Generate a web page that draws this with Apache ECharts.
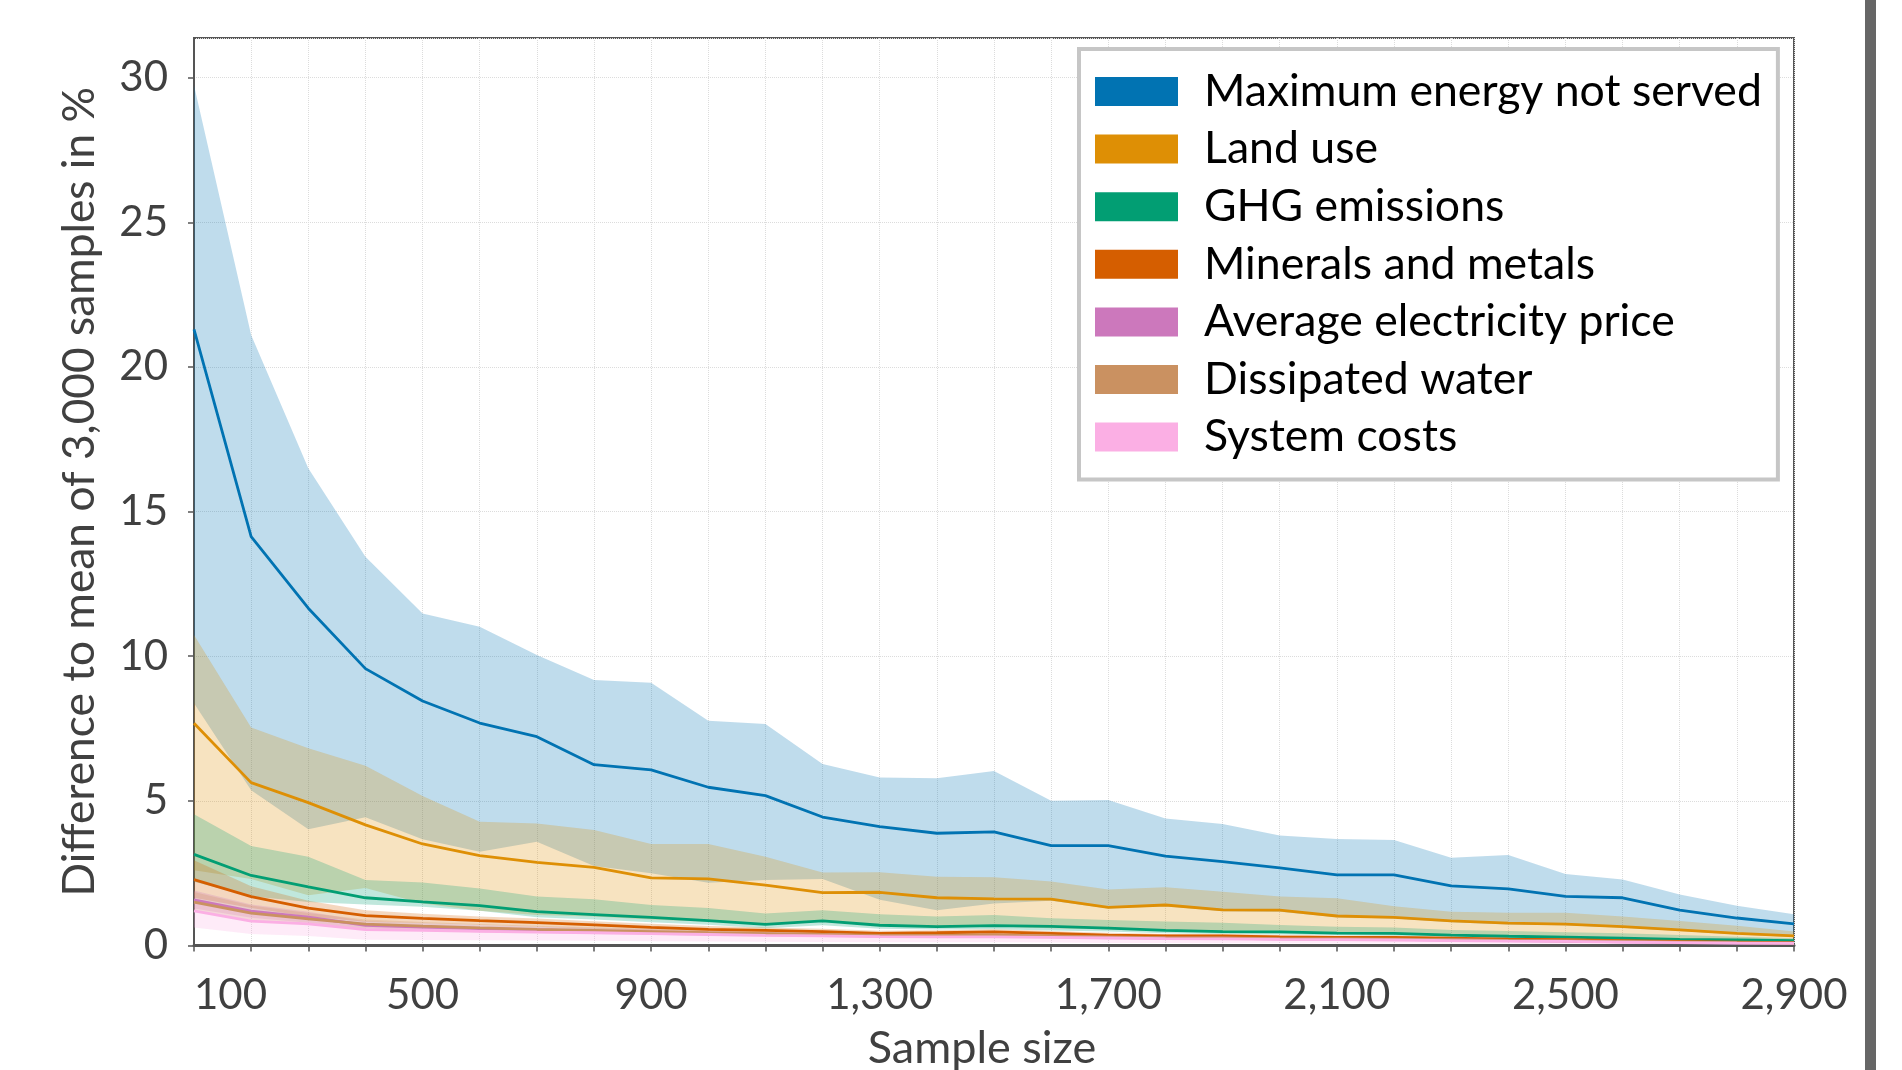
<!DOCTYPE html>
<html>
<head>
<meta charset="utf-8">
<script src="https://cdn.jsdelivr.net/npm/echarts@6/dist/echarts.min.js"></script>
<style>
html,body{margin:0;padding:0;background:#fff;}
#c{width:1902px;height:1070px;}
</style>
</head>
<body>
<div id="c"></div>
<script>
// ---- data ----
const sampleSizes = [100,200,300,400,500,600,700,800,900,1000,1100,1200,1300,1400,1500,1600,1700,1800,1900,2000,2100,2200,2300,2400,2500,2600,2700,2800,2900];
const seriesNames = ['Maximum energy not served','Land use','GHG emissions','Minerals and metals','Average electricity price','Dissipated water','System costs'];

const mensMean  = [21.3,14.13,11.66,9.57,8.45,7.69,7.22,6.25,6.07,5.47,5.18,4.44,4.11,3.88,3.93,3.45,3.45,3.09,2.90,2.68,2.44,2.44,2.06,1.96,1.70,1.65,1.22,0.95,0.75];
const mensUpper = [29.74,21.1,16.5,13.44,11.48,11.02,10.04,9.18,9.08,7.77,7.66,6.27,5.81,5.78,6.03,5.00,5.03,4.39,4.20,3.80,3.68,3.65,3.03,3.13,2.47,2.28,1.76,1.37,1.08];
const mensLower = [8.37,5.37,4.02,4.43,3.67,3.24,3.59,2.75,2.50,2.17,2.26,2.30,1.58,1.22,1.45,1.55,1.28,1.36,1.18,1.17,0.98,0.93,0.80,0.73,0.70,0.61,0.50,0.38,0.29];

const landMean  = [7.68,5.63,4.94,4.17,3.51,3.11,2.87,2.70,2.34,2.30,2.09,1.83,1.84,1.65,1.61,1.60,1.32,1.40,1.23,1.22,1.02,0.97,0.85,0.77,0.74,0.65,0.54,0.42,0.33];
const landUpper = [10.73,7.54,6.82,6.21,5.17,4.28,4.22,3.99,3.51,3.51,3.07,2.52,2.53,2.38,2.36,2.21,1.94,2.01,1.86,1.69,1.63,1.36,1.17,1.13,1.13,1.00,0.85,0.68,0.48];
const landLower = [2.6,2.3,1.74,1.99,1.45,1.2,1.05,1.0,0.9,0.82,0.75,0.88,0.72,0.62,0.66,0.6,0.55,0.5,0.46,0.44,0.4,0.38,0.32,0.3,0.27,0.24,0.2,0.16,0.12];

const ghgMean  = [3.15,2.42,2.03,1.65,1.51,1.38,1.17,1.07,0.97,0.86,0.73,0.85,0.70,0.65,0.69,0.66,0.60,0.52,0.48,0.47,0.43,0.42,0.36,0.32,0.29,0.25,0.21,0.19,0.17];
const ghgUpper = [4.54,3.44,3.07,2.26,2.18,1.97,1.69,1.60,1.40,1.30,1.11,1.22,1.08,1.00,1.05,0.94,0.88,0.83,0.79,0.71,0.65,0.62,0.54,0.50,0.46,0.42,0.36,0.30,0.25];
const ghgLower = [2.2,1.7,1.5,1.42,1.34,1.2,0.98,0.9,0.8,0.72,0.6,0.7,0.58,0.55,0.56,0.52,0.48,0.42,0.4,0.38,0.35,0.34,0.3,0.25,0.22,0.2,0.16,0.14,0.12];

const minMean  = [2.28,1.69,1.29,1.03,0.94,0.86,0.79,0.71,0.63,0.56,0.52,0.48,0.42,0.44,0.47,0.42,0.36,0.33,0.33,0.30,0.28,0.28,0.25,0.22,0.20,0.17,0.14,0.12,0.10];
const minUpper = [2.95,2.05,1.55,1.22,1.1,1.0,0.93,0.84,0.75,0.67,0.62,0.58,0.51,0.53,0.56,0.5,0.44,0.4,0.4,0.36,0.34,0.34,0.3,0.27,0.25,0.21,0.18,0.15,0.13];
const minLower = [1.65,1.3,1.0,0.82,0.77,0.71,0.65,0.58,0.51,0.45,0.42,0.38,0.33,0.35,0.38,0.34,0.28,0.26,0.26,0.24,0.22,0.22,0.2,0.17,0.15,0.13,0.1,0.09,0.07];

const priceMean  = [1.58,1.19,0.98,0.70,0.64,0.58,0.54,0.50,0.46,0.42,0.39,0.36,0.33,0.33,0.34,0.31,0.28,0.26,0.25,0.23,0.22,0.21,0.19,0.17,0.15,0.13,0.11,0.09,0.08];
const priceUpper = [1.9,1.42,1.17,0.84,0.77,0.7,0.65,0.6,0.55,0.5,0.47,0.43,0.4,0.4,0.41,0.37,0.34,0.31,0.3,0.28,0.26,0.25,0.23,0.2,0.18,0.16,0.13,0.11,0.1];
const priceLower = [1.28,0.96,0.79,0.56,0.51,0.46,0.43,0.4,0.37,0.34,0.31,0.29,0.26,0.26,0.27,0.25,0.22,0.21,0.2,0.18,0.18,0.17,0.15,0.14,0.12,0.1,0.09,0.07,0.06];

const waterMean  = [1.50,1.12,0.92,0.74,0.67,0.61,0.56,0.52,0.48,0.44,0.41,0.38,0.35,0.35,0.36,0.33,0.30,0.27,0.26,0.24,0.23,0.22,0.20,0.18,0.16,0.14,0.12,0.10,0.08];
const waterUpper = [1.85,1.38,1.12,0.9,0.81,0.74,0.68,0.63,0.58,0.53,0.5,0.46,0.42,0.42,0.43,0.4,0.36,0.33,0.31,0.29,0.28,0.26,0.24,0.22,0.19,0.17,0.14,0.12,0.1];
const waterLower = [1.18,0.88,0.73,0.59,0.54,0.49,0.45,0.42,0.39,0.36,0.33,0.31,0.28,0.28,0.29,0.27,0.24,0.22,0.21,0.19,0.18,0.18,0.16,0.15,0.13,0.11,0.1,0.08,0.07];

const costMean  = [1.2,0.84,0.75,0.55,0.52,0.49,0.46,0.44,0.41,0.38,0.35,0.33,0.31,0.30,0.30,0.28,0.26,0.24,0.23,0.21,0.20,0.19,0.17,0.15,0.14,0.12,0.10,0.08,0.07];
const costUpper = [1.55,1.1,0.98,0.72,0.68,0.64,0.6,0.57,0.53,0.49,0.46,0.43,0.4,0.39,0.39,0.36,0.34,0.31,0.3,0.27,0.26,0.25,0.22,0.2,0.18,0.16,0.13,0.11,0.09];
const costLower = [0.62,0.4,0.33,0.2,0.19,0.18,0.17,0.16,0.15,0.14,0.13,0.12,0.11,0.11,0.11,0.1,0.09,0.09,0.08,0.08,0.07,0.07,0.06,0.06,0.05,0.05,0.04,0.03,0.03];

const yTicks = [0,5,10,15,20,25,30];
const xLabelTicks = [100,500,900,1300,1700,2100,2500,2900];

// ---- build ----
const colors = ['#0173B2','#DE8F05','#029E73','#D55E00','#CC78BC','#CA9161','#FBAFE4'];
const means  = [mensMean, landMean, ghgMean, minMean, priceMean, waterMean, costMean];
const uppers = [mensUpper, landUpper, ghgUpper, minUpper, priceUpper, waterUpper, costUpper];
const lowers = [mensLower, landLower, ghgLower, minLower, priceLower, waterLower, costLower];

function hexA(hex, a){
  const r=parseInt(hex.slice(1,3),16),g=parseInt(hex.slice(3,5),16),b=parseInt(hex.slice(5,7),16);
  return `rgba(${r},${g},${b},${a})`;
}

const series = [];
seriesNames.forEach((name, i) => {
  const bandData = sampleSizes.map((x, k) => [x, lowers[i][k], uppers[i][k]]);
  series.push({
    name: 'band_' + i, type: 'custom', silent: true,
    data: bandData,
    encode: {x: 0, y: [1, 2]},
    clip: true,
    z: 2,
    renderItem: (params, api) => {
      if (params.dataIndex !== 0) return null;
      const top = bandData.map(d => api.coord([d[0], d[2]]));
      const bot = bandData.map(d => api.coord([d[0], d[1]])).reverse();
      return {
        type: 'polygon',
        shape: {points: top.concat(bot)},
        style: {fill: hexA(colors[i], 0.25), stroke: null}
      };
    }
  });
  series.push({
    name: name, type: 'line',
    data: sampleSizes.map((x, k) => [x, means[i][k]]),
    symbol: 'none', showSymbol: false, color: colors[i],
    lineStyle: {color: colors[i], width: 2.8}, z: 3
  });
});

const font = 'Lato';
const chart = echarts.init(document.getElementById('c'), null, {renderer: 'canvas'});
chart.setOption({
  animation: false,
  backgroundColor: '#ffffff',
  grid: {left: 194, right: 108, top: 38, bottom: 124.5, containLabel: false, outerBoundsMode: 'none',
         show: true, borderColor: '#555', borderWidth: 2, backgroundColor: 'transparent'},
  xAxis: {
    type: 'value', min: 100, max: 2900, interval: 100,
    name: 'Sample size', nameLocation: 'middle', nameGap: 80,
    nameTextStyle: {fontFamily: font, fontSize: 45, color: '#404040', padding: [0, 24, 0, 0]},
    axisLine: {show: true, lineStyle: {color: '#555', width: 3}},
    axisTick: {show: true, length: 6, lineStyle: {color: '#555', width: 1.5}},
    axisLabel: {
      fontFamily: font, fontSize: 42, color: '#404040', margin: 29,
      alignMinLabel: 'left',
      formatter: v => xLabelTicks.includes(v) ? v.toLocaleString('en-US') : ''
    },
    splitLine: {show: true, lineStyle: {color: '#dcdcdc', type: 'dotted', width: 1}}
  },
  yAxis: {
    type: 'value', min: 0, max: 31.37, interval: 5,
    name: 'Difference to mean of 3,000 samples in %', nameLocation: 'middle', nameGap: 92,
    nameTextStyle: {fontFamily: font, fontSize: 44.3, color: '#404040'},
    axisLine: {show: true, lineStyle: {color: '#555', width: 2}},
    axisTick: {show: true, length: 6, lineStyle: {color: '#555', width: 1.5}},
    axisLabel: {
      fontFamily: font, fontSize: 42, color: '#404040', margin: 26,
      showMaxLabel: false,
      formatter: v => yTicks.includes(v) ? String(v) : ''
    },
    splitLine: {show: true, lineStyle: {color: '#dcdcdc', type: 'dotted', width: 1}}
  },
  legend: {
    orient: 'vertical', left: 1079, top: 49, z: 10,
    data: seriesNames.map((n, i) => ({name: n, icon: 'rect', itemStyle: {color: colors[i]}})),
    itemWidth: 83, itemHeight: 29, itemGap: 12.6,
    padding: [20, 16, 20, 16],
    borderColor: '#c6c6c6', borderWidth: 4, backgroundColor: '#ffffff',
    textStyle: {fontFamily: font, fontSize: 44.6, color: '#000', padding: [0, 0, 0, 21]},
    selectedMode: false
  },
  graphic: [{type: 'rect', shape: {x: 1865, y: 0, width: 11, height: 1070}, style: {fill: '#666'}, z: 100}],
  series: series
});
</script>
</body>
</html>
